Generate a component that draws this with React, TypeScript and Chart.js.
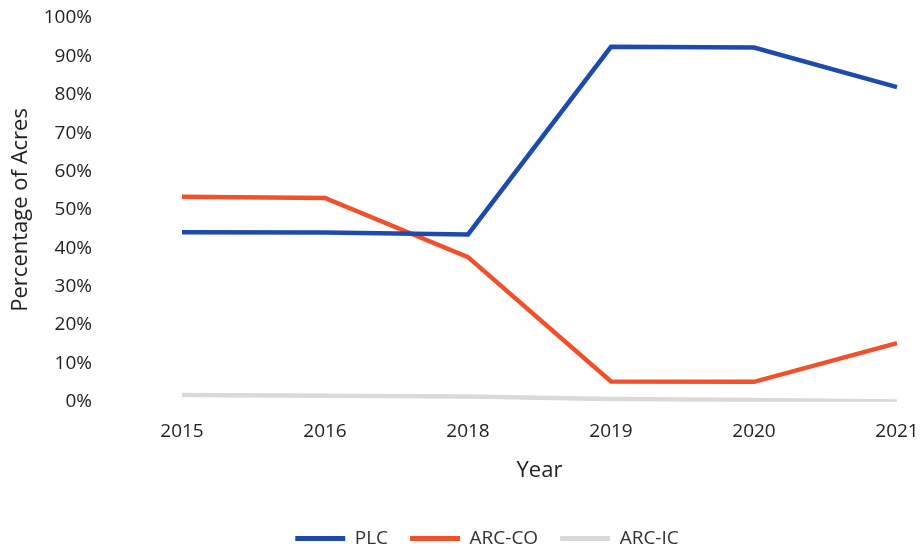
import React, { useEffect, useRef } from "react";
import { Chart, registerables } from "chart.js";

Chart.register(...registerables);

const years = ["2015", "2016", "2018", "2019", "2020", "2021"];
const plc = [44.2, 44.1, 43.6, 92.5, 92.3, 82.0];
const arcCo = [53.4, 53.1, 37.7, 5.3, 5.2, 15.3];
const arcIc = [1.8, 1.6, 1.4, 0.7, 0.5, 0.1];

const FONT = "'Open Sans', sans-serif";

const shiftLegend = {
  id: "shiftLegend",
  afterLayout(chart: any) {
    const l = chart.legend;
    if (l) {
      l.left += 23;
      l.right += 23;
    }
  },
};

export default function App() {
  const ref = useRef<HTMLCanvasElement | null>(null);
  useEffect(() => {
    if (!ref.current) return;
    const mk = (label: string, data: number[], color: string) => ({
      label,
      data,
      borderColor: color,
      backgroundColor: color,
      borderWidth: 4.5,
      pointRadius: 0,
      tension: 0,
      fill: false,
    });
    const chart = new Chart(ref.current, {
      type: "line",
      plugins: [shiftLegend],
      data: {
        labels: years,
        datasets: [
          mk("PLC", plc, "#1f4aad"),
          mk("ARC-CO", arcCo, "#f0512a"),
          mk("ARC-IC", arcIc, "#d9d9d9"),
        ],
      },
      options: {
        animation: false,
        responsive: false,
        layout: { padding: { top: 8, right: 0, left: 8, bottom: -10 } },
        plugins: {
          tooltip: { enabled: false },
          legend: {
            position: "bottom",
            labels: {
              color: "#333",
              font: { family: FONT, size: 19 },
              boxWidth: 50,
              boxHeight: 5,
              padding: 22,
              generateLabels: (c: any) =>
                Chart.defaults.plugins.legend.labels
                  .generateLabels(c)
                  .map((l: any) => ({ ...l, lineWidth: 0 })),
            },
          },
        },
        scales: {
          x: {
            offset: false,
            grid: { display: false },
            border: { display: false },
            ticks: {
              color: "#222",
              font: { family: FONT, size: 19 },
              padding: 10,
              maxRotation: 0,
            },
            title: {
              display: true,
              text: "Year",
              color: "#222",
              font: { family: FONT, size: 22 },
              padding: { top: 5, bottom: 23 },
            },
            afterFit: (s: any) => {
              s.paddingRight = 23;
            },
          },
          y: {
            min: 0,
            max: 100,
            grid: { display: false },
            border: { display: false },
            ticks: {
              stepSize: 10,
              color: "#222",
              font: { family: FONT, size: 19 },
              padding: 82,
              callback: (v: any) => v + "%",
            },
            title: {
              display: true,
              text: "Percentage of Acres",
              color: "#222",
              font: { family: FONT, size: 22 },
              padding: { top: 0, bottom: 0 },
            },
            afterFit: (s: any) => {
              s.width = 174;
              s.paddingTop = 18;
              s.paddingBottom = 10;
            },
          },
        },
      },
    });
    return () => chart.destroy();
  }, []);
  return (
    <div style={{ position: "absolute", left: 0, top: 0, width: 920, height: 548, background: "#fff" }}>
      <canvas ref={ref} width={920} height={548} />
    </div>
  );
}
